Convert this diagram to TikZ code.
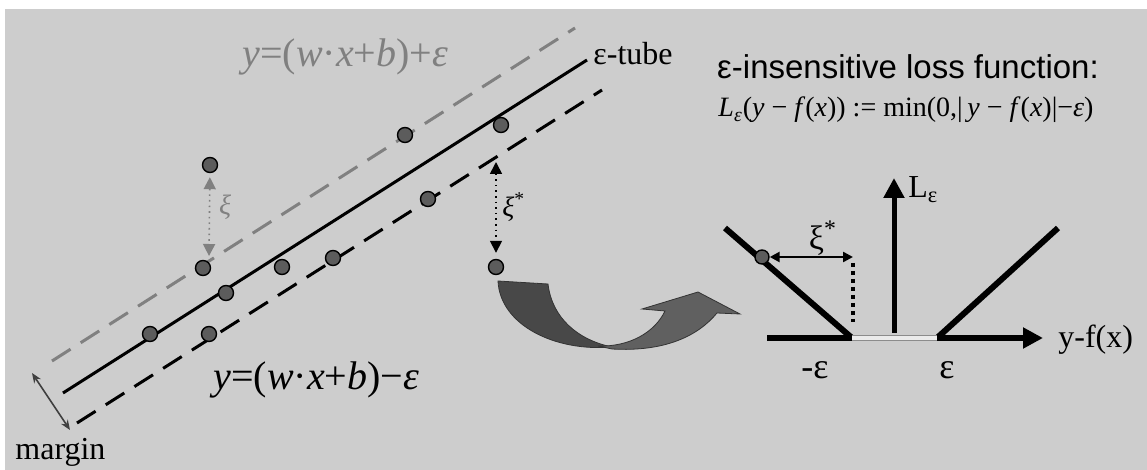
\documentclass[tikz,border=0pt]{standalone}
\usepackage{fontspec}
\setmainfont{Liberation Serif}
\newfontfamily\lossfont{Liberation Sans}
\usetikzlibrary{arrows.meta}
\definecolor{bggray}{RGB}{205,205,205}
\definecolor{tubegray}{RGB}{128,128,128}
\definecolor{dotgray}{RGB}{92,92,92}
\definecolor{ribbondark}{RGB}{72,72,72}
\definecolor{ribbonlight}{RGB}{96,96,96}

\begin{document}
\begin{tikzpicture}[x=0.5pt, y=-0.5pt,
  dot/.style={circle, fill=dotgray, draw=black, line width=0.7pt,
              inner sep=0pt, minimum size=7.5pt},
  tube/.style={line width=1.5pt},
  dashtube/.style={line width=1.5pt, dash pattern=on 11pt off 6pt},
  slack/.style={dotted, line width=0.8pt,
                {Triangle[length=6pt,width=6pt]}-{Triangle[length=6pt,width=6pt]}},
  marr/.style={line width=0.8pt, black!75,
               {Stealth[length=5pt,width=4pt]}-{Stealth[length=5pt,width=4pt]}},
  loss/.style={line width=3pt},
  head/.style={-{Triangle[length=10pt,width=10pt]}},
  band/.style={draw=black!45, line width=0.5pt, double=black!8, double distance=2.2pt},
  lbl/.style={inner sep=0pt},
  big/.style={font=\fontsize{20}{24}\selectfont},
  mid/.style={font=\fontsize{16}{19}\selectfont}
]
  \useasboundingbox (0,0) rectangle (1147,470);
  \fill[white] (0,0) rectangle (1147,470);
  \fill[bggray] (5,9) rectangle (1147,470);

  % regression tube
  \coordinate (up0) at (52,361);  \coordinate (up1) at (575,28);
  \coordinate (mid0) at (63,393); \coordinate (mid1) at (587,60);
  \coordinate (lo0) at (77,423);  \coordinate (lo1) at (602,90);
  \draw[dashtube, tubegray] (up0) -- (up1);
  \draw[tube] (mid0) -- (mid1);
  \draw[dashtube] (lo0) -- (lo1);

  \node[dot] (p1) at (150,334) {};
  \node[dot] (p2) at (209,334) {};
  \node[dot] (p3) at (226,293) {};
  \node[dot] (p4) at (203,268) {};
  \node[dot] (p5) at (282,267) {};
  \node[dot] (p6) at (333,258) {};
  \node[dot] (p7) at (428,199) {};
  \node[dot] (p8) at (405,135) {};
  \node[dot] (p9) at (501,125) {};
  \node[dot] (xo) at (210,165) {};
  \node[dot] (xs) at (496,267) {};

  % slack variables
  \coordinate (xa) at (209,256);
  \coordinate (xb) at (496,162);
  \draw[slack, tubegray, shorten <=2pt] (xo) -- (xa);
  \draw[slack, shorten >=3pt] (xb) -- (xs);
  \node[lbl, tubegray, font=\fontsize{14}{16}\selectfont\itshape] (xilbl) at (225,207) {ξ};
  \node[lbl, font=\fontsize{14}{16}\selectfont, anchor=west] (xislbl) at (502,207) {\textit{ξ}\textsuperscript{*}};

  % margin
  \coordinate (m0) at (32,373);
  \coordinate (m1) at (70,430);
  \draw[marr] (m0) -- (m1);
  \node[lbl, mid, anchor=base west] (marginlbl) at (15,459) {margin};

  \node[lbl, big, tubegray, anchor=base west] (eqp) at (242,67)
    {\textit{y}=(\textit{w}·\textit{x}+\textit{b})+\textit{ε}};
  \node[lbl, big, anchor=base west] (eqm) at (213,390)
    {\textit{y}=(\textit{w}·\textit{x}+\textit{b})−\textit{ε}};
  \node[lbl, font=\fontsize{16}{18}\selectfont, anchor=base west] (tubelbl) at (593,65) {ε-tube};

  % curved arrow
  \fill[ribbondark, draw=black!80, line width=0.4pt]
    (498,281) -- (548,284) .. controls (552,318) and (578,340) .. (612,347)
    .. controls (555,352) and (500,325) .. (498,281) -- cycle;
  \fill[ribbonlight, draw=black!80, line width=0.4pt]
    (598,346) .. controls (630,347) and (655,332) .. (665,311)
    -- (642,309) -- (698,292) -- (740,314) -- (717,313)
    .. controls (698,336) and (665,352) .. (612,349) -- cycle;

  % loss function
  \node[lbl, font=\lossfont\fontsize{16.5}{20}\selectfont] (title) at (908,67)
    {ε-insensitive loss function:};
  \node[lbl, font=\fontsize{14}{17}\selectfont] (formula) at (906,110)
    {\textit{L}\textsubscript{\textit{ε}}(\textit{y} − \textit{f}(\textit{x})) := min(0,|\,\textit{y} − \textit{f}(\textit{x})|−\textit{ε})};

  \coordinate (lt) at (725,228);  \coordinate (me) at (852,338);
  \coordinate (pe) at (937,338);  \coordinate (rt) at (1058,228);
  \coordinate (ax0) at (767,338); \coordinate (ax1) at (1043,338);
  \coordinate (vy0) at (894,333); \coordinate (vy1) at (894,178);
  \draw[loss] (lt) -- (me);
  \draw[loss] (rt) -- (pe);
  \draw[loss] (ax0) -- (me);
  \draw[loss, head] (pe) -- (ax1);
  \draw[line width=2.5pt, head] (vy0) -- (vy1);
  \draw[band] (me) -- (pe);

  \node[dot, minimum size=7pt] (q) at (762,257) {};
  \coordinate (qe) at (853,257);
  \coordinate (qt) at (853,263);
  \coordinate (qd) at (853,322);
  \draw[line width=1.2pt, {Triangle[length=5pt,width=5pt]}-{Triangle[length=5pt,width=5pt]}] (q) -- (qe);
  \draw[line width=1.8pt, dash pattern=on 2pt off 2pt] (qt) -- (qd);

  \node[lbl, mid, anchor=west] (llbl) at (908,190) {L\textsubscript{ε}};
  \node[lbl, font=\fontsize{17}{20}\selectfont] (xisr) at (823,238) {ξ\textsuperscript{*}};
  \node[lbl, mid, anchor=west] (yfx) at (1058,340) {y-f(x)};
  \node[lbl, font=\fontsize{18}{21}\selectfont] (mel) at (815,370) {-ε};
  \node[lbl, font=\fontsize{18}{21}\selectfont] (pel) at (947,370) {ε};
\end{tikzpicture}
\end{document}
